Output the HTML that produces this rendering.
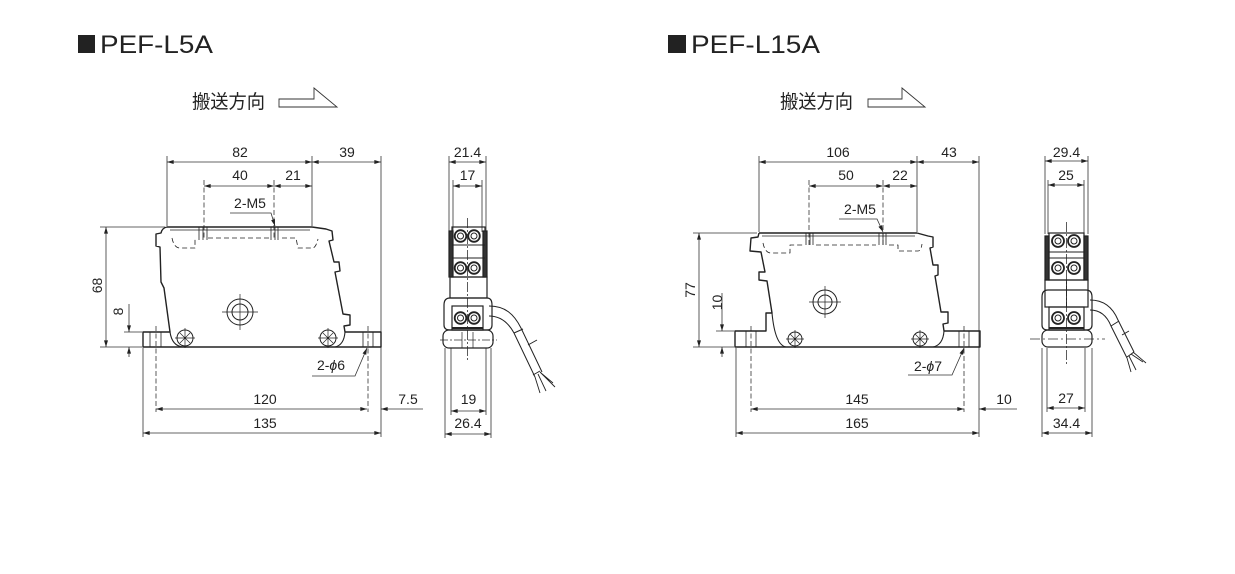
<!DOCTYPE html>
<html><head><meta charset="utf-8">
<style>
html,body{margin:0;padding:0;background:#fff;}
svg{display:block;}
text{font-family:"Liberation Sans","Noto Sans CJK JP",sans-serif;fill:#222;}
</style></head>
<body>
<svg width="1235" height="574" viewBox="0 0 1235 574" xmlns="http://www.w3.org/2000/svg">
<defs>
<marker id="a" viewBox="0 0 10 6" refX="10" refY="3" markerWidth="7" markerHeight="4" orient="auto-start-reverse" markerUnits="userSpaceOnUse"><path d="M0,0 L10,3 L0,6 z" fill="#222"/></marker>
</defs>
<rect width="1235" height="574" fill="#fff"/>

<!-- Titles -->
<rect x="78" y="35" width="17" height="18" fill="#222"/>
<text x="100" y="53" font-size="25" textLength="113" lengthAdjust="spacingAndGlyphs">PEF-L5A</text>
<rect x="668" y="35" width="18" height="18" fill="#222"/>
<text x="691" y="53" font-size="25" textLength="129" lengthAdjust="spacingAndGlyphs">PEF-L15A</text>

<text x="192" y="108" font-size="19" textLength="73" lengthAdjust="spacingAndGlyphs">搬送方向</text>
<path d="M279,99 H314 V88 L337,107 H279 Z" fill="none" stroke="#333" stroke-width="0.9"/>
<text x="780" y="108" font-size="19" textLength="73" lengthAdjust="spacingAndGlyphs">搬送方向</text>
<path d="M868,99 H902 V88 L925,107 H868 Z" fill="none" stroke="#333" stroke-width="0.9"/>

<g font-size="14" text-anchor="middle">
<!-- View1 texts -->
<text x="240" y="157">82</text>
<text x="347" y="157">39</text>
<text x="240" y="180">40</text>
<text x="293" y="180">21</text>
<text x="250" y="208">2-M5</text>
<text x="265" y="404">120</text>
<text x="408" y="404">7.5</text>
<text x="265" y="428">135</text>
<text x="331" y="370">2-<tspan font-style="italic">ϕ</tspan>6</text>
<text transform="translate(102,285.5) rotate(-90)">68</text>
<text transform="translate(123,311.5) rotate(-90)">8</text>
<!-- View2 texts -->
<text x="467.5" y="157">21.4</text>
<text x="467.5" y="180">17</text>
<text x="468.5" y="404">19</text>
<text x="468" y="428">26.4</text>
<!-- View3 texts -->
<text x="838" y="157">106</text>
<text x="949" y="157">43</text>
<text x="846" y="180">50</text>
<text x="900" y="180">22</text>
<text x="860" y="214">2-M5</text>
<text x="857" y="404">145</text>
<text x="1004" y="404">10</text>
<text x="857" y="428">165</text>
<text x="928" y="371">2-<tspan font-style="italic">ϕ</tspan>7</text>
<text transform="translate(695,290) rotate(-90)">77</text>
<text transform="translate(722,302.5) rotate(-90)">10</text>
<!-- View4 texts -->
<text x="1066.5" y="157">29.4</text>
<text x="1066" y="180">25</text>
<text x="1066" y="403">27</text>
<text x="1066.5" y="428">34.4</text>
</g>

<!-- ===== View 1 dims ===== -->
<g stroke="#333" stroke-width="0.8" fill="none">
<path d="M167,156V226 M312,156V226 M381,156V437 M143,348V437"/>
<path d="M204,180V240 M274,180V240 M156,326V412 M368,326V412" stroke-dasharray="5,2.5"/>
<path d="M100,227H165 M100,347H142 M124,332H142"/>
<path d="M167,162H312" marker-start="url(#a)" marker-end="url(#a)"/>
<path d="M312,162H381" marker-start="url(#a)" marker-end="url(#a)"/>
<path d="M204,186H274" marker-start="url(#a)" marker-end="url(#a)"/>
<path d="M274,186H312" marker-start="url(#a)" marker-end="url(#a)"/>
<path d="M230,213H271L275,226" marker-end="url(#a)"/>
<path d="M106,227V347" marker-start="url(#a)" marker-end="url(#a)"/>
<path d="M129,304V332" marker-end="url(#a)"/>
<path d="M129,357V347" marker-end="url(#a)"/>
<path d="M156,409H367" marker-start="url(#a)" marker-end="url(#a)"/>
<path d="M423,409H381" marker-end="url(#a)"/>
<path d="M143,433H381" marker-start="url(#a)" marker-end="url(#a)"/>
<path d="M312,376H355L367,348" marker-end="url(#a)"/>
</g>
<!-- View1 body -->
<g stroke="#222" stroke-width="1.4" fill="none" stroke-linejoin="round">
<path d="M167,227 H312"/>
<path d="M167,227 Q162,228 161,233 L156,234 L156,246 L160,247 L161,282 L164,288 L170,332 H143 V347 H381 V332 H345 L344,326 L350,325 L350,315 L343,314 L335,272 L340,271 L339,262 L334,262 L329,241 L333,240 L332,231 L326,229 L312,227"/>
<path d="M170,332 Q172,346 183,347 M345,332 Q344,345 335,347" stroke-width="1.1"/>
<path d="M170,230 H310" stroke-width="0.7"/>
<path d="M150,332V347 M161,332V347 M363,332V347 M373,332V347" stroke-width="0.8"/>
<circle cx="240" cy="312" r="13" stroke-width="1"/>
<circle cx="240" cy="312" r="8" stroke-width="1"/>
<path d="M222,312H258 M240,294V330" stroke-width="0.7"/>
<circle cx="185" cy="338" r="8" stroke-width="1"/>
<circle cx="328" cy="338" r="8" stroke-width="1"/>
<path d="M175,338H195 M185,328V348 M180,333L190,343 M190,333L180,343 M318,338H338 M328,328V348 M323,333L333,343 M333,333L323,343" stroke-width="0.7"/>
<path d="M199,227V240 M203,227V240 M207,227V240 M271,227V240 M275,227V240 M278,227V240" stroke-width="0.8"/>
<path d="M172,238 Q174,248 180,248 H195 V238 M208,238 H270 M282,238 H296 L298,248 H313 Q316,247 318,239" stroke-width="0.8" stroke-dasharray="5,3"/>
</g>

<!-- ===== View 2 ===== -->
<g stroke="#333" stroke-width="0.8" fill="none">
<path d="M449,156V232 M486,156V232 M453,180V232 M482,180V232"/>
<path d="M445,348V438 M491,348V438 M451,348V415 M486,348V415"/>
<path d="M449,162H486" marker-start="url(#a)" marker-end="url(#a)"/>
<path d="M453,186H482" marker-start="url(#a)" marker-end="url(#a)"/>
<path d="M451,411H486" marker-start="url(#a)" marker-end="url(#a)"/>
<path d="M445,434H491" marker-start="url(#a)" marker-end="url(#a)"/>
<path d="M467.5,218V362" stroke-dasharray="10,2,2,2"/>
<path d="M440,340H497" stroke-dasharray="8,2,2,2"/>
</g>
<g stroke="#222" stroke-width="1.2" fill="none">
<rect x="443" y="330" width="50" height="18" rx="6"/>
<path d="M450,298 Q444,298 444,305 V325 Q444,330 450,330 H487 Q492,330 492,325 V305 Q492,298 487,298 Z"/>
<rect x="450" y="277" width="37" height="21"/>
<rect x="452" y="227" width="33" height="50"/>
<rect x="449" y="231" width="4" height="46" fill="#333"/>
<rect x="483" y="231" width="4" height="46" fill="#333"/>
<path d="M452,245H485 M452,258H485" stroke-width="0.9"/>
<rect x="452" y="306" width="31" height="24"/>
<path d="M452,328H483" stroke-width="2"/>
<path d="M462,332V348 M473,332V348" stroke-width="0.7"/>
</g>
<g fill="none" stroke="#222">
<circle cx="460.5" cy="236" r="5.8" stroke-width="1.8"/><circle cx="460.5" cy="236" r="3" stroke-width="1"/>
<circle cx="474" cy="236" r="5.8" stroke-width="1.8"/><circle cx="474" cy="236" r="3" stroke-width="1"/>
<circle cx="460.5" cy="268" r="5.8" stroke-width="1.8"/><circle cx="460.5" cy="268" r="3" stroke-width="1"/>
<circle cx="474" cy="268" r="5.8" stroke-width="1.8"/><circle cx="474" cy="268" r="3" stroke-width="1"/>
<circle cx="460.5" cy="318" r="5.8" stroke-width="1.8"/><circle cx="460.5" cy="318" r="3" stroke-width="1"/>
<circle cx="474" cy="318" r="5.8" stroke-width="1.8"/><circle cx="474" cy="318" r="3" stroke-width="1"/>
</g>
<g fill="none" stroke="#222" stroke-width="1">
<path d="M489,306 C505,306 514,314 521,328 L542,372"/>
<path d="M489,316 C500,316 508,322 514,333 L535,377"/>
<path d="M514,333 L523,329 M528,345 L537,340 M540,371 L533,375"/>
<path d="M535,377 L540,393 M540,372 L555,387 M538,374 L546,391 M541,373 L553,383" stroke-width="0.9"/>
</g>

<!-- ===== View 3 dims ===== -->
<g stroke="#333" stroke-width="0.8" fill="none">
<path d="M759,156V232 M917,156V232 M979,156V437 M736,348V437"/>
<path d="M809,180V245 M883,180V245 M751,326V412 M964,326V412" stroke-dasharray="5,2.5"/>
<path d="M693,233H757 M693,347H734 M716,331H734"/>
<path d="M759,162H917" marker-start="url(#a)" marker-end="url(#a)"/>
<path d="M917,162H979" marker-start="url(#a)" marker-end="url(#a)"/>
<path d="M809,186H883" marker-start="url(#a)" marker-end="url(#a)"/>
<path d="M883,186H917" marker-start="url(#a)" marker-end="url(#a)"/>
<path d="M839,219H877L883,232" marker-end="url(#a)"/>
<path d="M699,233V347" marker-start="url(#a)" marker-end="url(#a)"/>
<path d="M722,293V331" marker-end="url(#a)"/>
<path d="M722,357V347" marker-end="url(#a)"/>
<path d="M751,409H964" marker-start="url(#a)" marker-end="url(#a)"/>
<path d="M1017,409H979" marker-end="url(#a)"/>
<path d="M736,433H979" marker-start="url(#a)" marker-end="url(#a)"/>
<path d="M908,375H952L964,348" marker-end="url(#a)"/>
</g>
<g stroke="#222" stroke-width="1.4" fill="none" stroke-linejoin="round">
<path d="M759,233 H917"/>
<path d="M759,233 L758,237 L751,238 L750,251 L761,252 L765,272 L759,272 L759,280 L767,281 L772,313 L766,313 L766,331 H735 V347 H980 V331 H944 L943,324 L948,323 L948,312 L941,312 L935,276 L938,275 L938,265 L933,265 L930,248 L933,247 L933,237 L928,236 L917,233"/>
<path d="M772,313 Q775,345 786,347 M944,331 Q943,345 933,347" stroke-width="1.1"/>
<path d="M762,236 H915" stroke-width="0.7"/>
<path d="M746,331V347 M756,331V347 M959,331V347 M969,331V347" stroke-width="0.8"/>
<circle cx="825" cy="302" r="12" stroke-width="1"/>
<circle cx="825" cy="302" r="7" stroke-width="1"/>
<path d="M809,302H841 M825,286V318" stroke-width="0.7"/>
<circle cx="795" cy="339" r="7" stroke-width="1"/>
<circle cx="920" cy="339" r="7" stroke-width="1"/>
<path d="M786,339H804 M795,330V348 M790,334L800,344 M800,334L790,344 M911,339H929 M920,330V348 M915,334L925,344 M925,334L915,344" stroke-width="0.7"/>
<path d="M806,233V245 M810,233V245 M813,233V245 M879,233V245 M883,233V245 M886,233V245" stroke-width="0.8"/>
<path d="M763,243 Q765,253 771,253 H790 V245 H803 M816,245 H876 M889,245 H898 V251 H918 Q921,251 922,244" stroke-width="0.8" stroke-dasharray="5,3"/>
</g>

<!-- ===== View 4 ===== -->
<g stroke="#333" stroke-width="0.8" fill="none">
<path d="M1045,156V234 M1088,156V234 M1048,180V234 M1084,180V234"/>
<path d="M1042,348V437 M1092,348V437 M1047,348V412 M1085,348V412"/>
<path d="M1045,161H1088" marker-start="url(#a)" marker-end="url(#a)"/>
<path d="M1048,185H1084" marker-start="url(#a)" marker-end="url(#a)"/>
<path d="M1047,408H1085" marker-start="url(#a)" marker-end="url(#a)"/>
<path d="M1042,433H1092" marker-start="url(#a)" marker-end="url(#a)"/>
<path d="M1066.5,222V365" stroke-dasharray="10,2,2,2"/>
<path d="M1030,339H1105" stroke-dasharray="10,3,2,3"/>
</g>
<g stroke="#222" stroke-width="1.2" fill="none">
<rect x="1042" y="330" width="50" height="17" rx="6"/>
<path d="M1048,290 Q1042,290 1042,297 V325 Q1042,330 1048,330 H1086 Q1092,330 1092,325 V297 Q1092,290 1086,290 Z"/>
<rect x="1045" y="280" width="43" height="27"/>
<path d="M1066.5,280V307" stroke-width="0.9"/>
<rect x="1049" y="233" width="35" height="47"/>
<rect x="1045" y="236" width="4" height="44" fill="#333"/>
<rect x="1084" y="236" width="4" height="44" fill="#333"/>
<path d="M1049,252H1084 M1049,258H1084" stroke-width="0.9"/>
<rect x="1049" y="307" width="35" height="23"/>
<path d="M1049,328H1084" stroke-width="2"/>
</g>
<g fill="none" stroke="#222">
<circle cx="1058" cy="241" r="6" stroke-width="1.8"/><circle cx="1058" cy="241" r="3" stroke-width="1"/>
<circle cx="1074" cy="241" r="6" stroke-width="1.8"/><circle cx="1074" cy="241" r="3" stroke-width="1"/>
<circle cx="1058" cy="268" r="6" stroke-width="1.8"/><circle cx="1058" cy="268" r="3" stroke-width="1"/>
<circle cx="1074" cy="268" r="6" stroke-width="1.8"/><circle cx="1074" cy="268" r="3" stroke-width="1"/>
<circle cx="1058" cy="318" r="6" stroke-width="1.8"/><circle cx="1058" cy="318" r="3" stroke-width="1"/>
<circle cx="1074" cy="318" r="6" stroke-width="1.8"/><circle cx="1074" cy="318" r="3" stroke-width="1"/>
</g>
<g fill="none" stroke="#222" stroke-width="1">
<path d="M1090,300 C1104,300 1113,308 1118,320 L1134,352"/>
<path d="M1090,310 C1100,310 1107,316 1111,326 L1127,358"/>
<path d="M1111,326 L1119,321 M1122,335 L1129,331 M1134,352 L1127,357"/>
<path d="M1127,358 L1131,372 M1133,352 L1146,363 M1129,356 L1136,370 M1131,354 L1143,362" stroke-width="0.9"/>
</g>
</svg>
</body></html>
